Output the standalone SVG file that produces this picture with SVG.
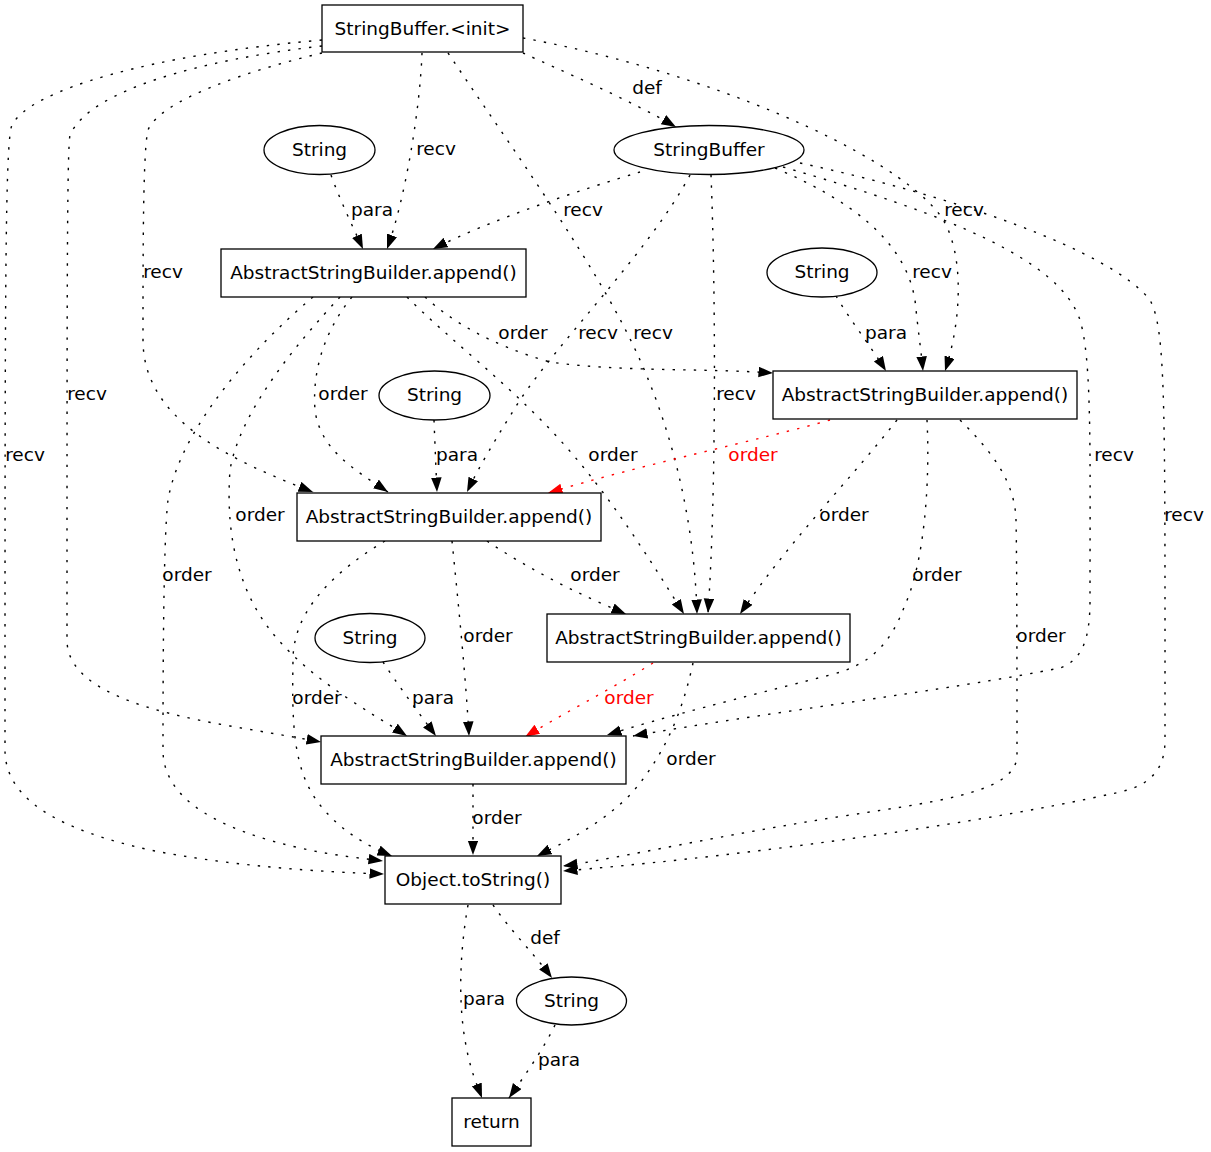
<svg xmlns="http://www.w3.org/2000/svg" width="1211" height="1152" viewBox="0 0 1211 1152">
<style>
text{font-family:"DejaVu Sans","Liberation Sans",sans-serif;font-size:18.5px;text-anchor:middle;fill:#000}
.nd{fill:#fff;stroke:#000;stroke-width:1.3}
.e{fill:none;stroke:#000;stroke-width:1.4;stroke-dasharray:2.4,8.2;marker-end:url(#ah)}
.r{fill:none;stroke:#f00;stroke-width:1.4;stroke-dasharray:2.4,8.2;marker-end:url(#ahr)}
text.rl{fill:#f00}
</style>
<defs>
<marker id="ah" markerUnits="userSpaceOnUse" markerWidth="16" markerHeight="12" refX="14.5" refY="5.3" orient="auto"><path d="M0,0 L14.5,5.3 L0,10.6 z" fill="#000"/></marker>
<marker id="ahr" markerUnits="userSpaceOnUse" markerWidth="16" markerHeight="12" refX="14.5" refY="5.3" orient="auto"><path d="M0,0 L14.5,5.3 L0,10.6 z" fill="#f00"/></marker>
</defs>
<rect width="1211" height="1152" fill="#fff"/>
<g id="edges">
<path class="e" d="M523,53 C560,70 630,100 676,127"/>
<path class="e" d="M422,53 C420,110 405,200 387,249"/>
<path class="e" d="M331,175 C340,200 352,225 363,249"/>
<path class="e" d="M640,172 C580,190 490,220 433,249"/>
<path class="e" d="M448,53 C520,160 600,270 640,360 C680,450 695,540 697,614"/>
<path class="e" d="M690,175 C650,250 560,340 520,400 C495,440 480,465 467,492"/>
<path class="e" d="M711,175 C716,300 716,500 708,613"/>
<path class="e" d="M775,168 C850,200 905,240 915,300 C918,330 921,350 923,371"/>
<path class="e" d="M523,38 C700,70 890,150 940,215 C965,250 962,320 945,371"/>
<path class="e" d="M836,296 C850,320 870,345 886,371"/>
<path class="e" d="M783,167 C950,215 1060,260 1080,320 C1092,360 1090,450 1090,600 C1090,640 1082,660 1060,668 C950,690 750,715 633,736"/>
<path class="e" d="M800,163 C950,195 1110,250 1150,300 C1166,330 1165,400 1165,740 C1165,770 1150,785 1120,792 C950,830 700,860 563,871"/>
<path class="e" d="M322,53 C250,70 160,100 148,130 C143,150 143,250 143,340 C143,420 230,460 313,492"/>
<path class="e" d="M322,46 C200,60 90,90 70,135 C67,150 67,300 67,640 C67,690 150,712 230,726 C270,733 300,738 321,742"/>
<path class="e" d="M322,40 C150,55 30,90 12,125 C5,140 5,300 5,750 C5,800 60,830 150,850 C230,866 320,872 384,874"/>
<path class="e" d="M425,297 C450,320 490,345 550,362 C620,372 700,368 773,373"/>
<path class="e" d="M352,297 C325,330 312,370 315,410 C320,450 355,470 388,492"/>
<path class="e" d="M407,297 C450,340 510,385 560,440 C610,495 650,560 684,614"/>
<path class="e" d="M340,297 C300,340 240,410 230,470 C225,540 240,600 283,645 C320,685 370,712 407,736"/>
<path class="e" d="M313,297 C250,350 180,430 168,500 C163,540 163,700 163,750 C163,800 220,830 300,848 C330,855 360,858 383,861"/>
<path class="r" d="M830,420 C760,440 640,465 548,493"/>
<path class="e" d="M897,420 C850,480 790,540 740,614"/>
<path class="e" d="M927,420 C930,480 925,560 905,605 C890,645 870,665 830,675 C740,698 660,718 607,735"/>
<path class="e" d="M960,420 C990,450 1015,480 1016,520 C1017,560 1017,700 1017,755 C1017,790 950,800 850,815 C720,835 620,858 563,866"/>
<path class="e" d="M487,541 C530,570 580,595 626,614"/>
<path class="e" d="M452,541 C458,600 466,680 469,736"/>
<path class="e" d="M385,541 C320,580 293,620 293,660 C292,720 292,770 320,805 C340,830 365,845 392,856"/>
<path class="r" d="M653,663 C610,690 560,715 525,737"/>
<path class="e" d="M693,663 C685,700 670,750 630,795 C600,825 565,842 537,856"/>
<path class="e" d="M473,784 L473,855"/>
<path class="e" d="M434,420 C435,445 436,470 437,492"/>
<path class="e" d="M383,662 C398,685 418,712 436,736"/>
<path class="e" d="M493,905 C510,930 535,955 552,978"/>
<path class="e" d="M468,905 C460,950 458,1000 465,1040 C470,1070 477,1085 482,1098"/>
<path class="e" d="M555,1025 C543,1050 525,1075 509,1098"/>
<text x="647" y="94">def</text>
<text x="436" y="155">recv</text>
<text x="372" y="216">para</text>
<text x="583" y="216">recv</text>
<text x="964" y="216">recv</text>
<text x="163" y="278">recv</text>
<text x="932" y="278">recv</text>
<text x="523" y="339">order</text>
<text x="598" y="339">recv</text>
<text x="653" y="339">recv</text>
<text x="886" y="339">para</text>
<text x="87" y="400">recv</text>
<text x="343" y="400">order</text>
<text x="736" y="400">recv</text>
<text x="613" y="461">order</text>
<text class="rl" x="753" y="461">order</text>
<text x="25" y="461">recv</text>
<text x="457" y="461">para</text>
<text x="1114" y="461">recv</text>
<text x="260" y="521">order</text>
<text x="844" y="521">order</text>
<text x="1184" y="521">recv</text>
<text x="187" y="581">order</text>
<text x="595" y="581">order</text>
<text x="937" y="581">order</text>
<text x="488" y="642">order</text>
<text x="1041" y="642">order</text>
<text x="317" y="704">order</text>
<text x="433" y="704">para</text>
<text class="rl" x="629" y="704">order</text>
<text x="691" y="765">order</text>
<text x="497" y="824">order</text>
<text x="545" y="944">def</text>
<text x="484" y="1005">para</text>
<text x="559" y="1066">para</text>
</g>
<g id="n_init"><rect class="nd" x="322" y="5" width="201" height="47"/><text x="422.5" y="34.5">StringBuffer.&lt;init&gt;</text></g>
<g id="n_str1"><ellipse class="nd" cx="319.5" cy="150" rx="55.5" ry="24.5"/><text x="319.5" y="155.5">String</text></g>
<g id="n_sb"><ellipse class="nd" cx="709" cy="150" rx="95" ry="24.5"/><text x="709" y="155.5">StringBuffer</text></g>
<g id="n_a1"><rect class="nd" x="221" y="249" width="305" height="48"/><text x="373.5" y="279">AbstractStringBuilder.append()</text></g>
<g id="n_str2"><ellipse class="nd" cx="822" cy="272.5" rx="55" ry="24.5"/><text x="822" y="278">String</text></g>
<g id="n_a2"><rect class="nd" x="773" y="371" width="304" height="48"/><text x="925" y="401">AbstractStringBuilder.append()</text></g>
<g id="n_str3"><ellipse class="nd" cx="434.5" cy="395.5" rx="55.5" ry="24.5"/><text x="434.5" y="401">String</text></g>
<g id="n_a3"><rect class="nd" x="297" y="493" width="304" height="48"/><text x="449" y="523">AbstractStringBuilder.append()</text></g>
<g id="n_a4"><rect class="nd" x="547" y="614" width="303" height="48"/><text x="698.5" y="644">AbstractStringBuilder.append()</text></g>
<g id="n_str4"><ellipse class="nd" cx="370" cy="638" rx="55" ry="24.5"/><text x="370" y="643.5">String</text></g>
<g id="n_a5"><rect class="nd" x="321" y="736" width="305" height="48"/><text x="473.5" y="766">AbstractStringBuilder.append()</text></g>
<g id="n_tostr"><rect class="nd" x="385" y="856" width="176" height="48"/><text x="473" y="886">Object.toString()</text></g>
<g id="n_str5"><ellipse class="nd" cx="571.5" cy="1001" rx="55" ry="24"/><text x="571.5" y="1006.5">String</text></g>
<g id="n_ret"><rect class="nd" x="452" y="1098" width="79" height="48"/><text x="491.5" y="1128">return</text></g>
</svg>
